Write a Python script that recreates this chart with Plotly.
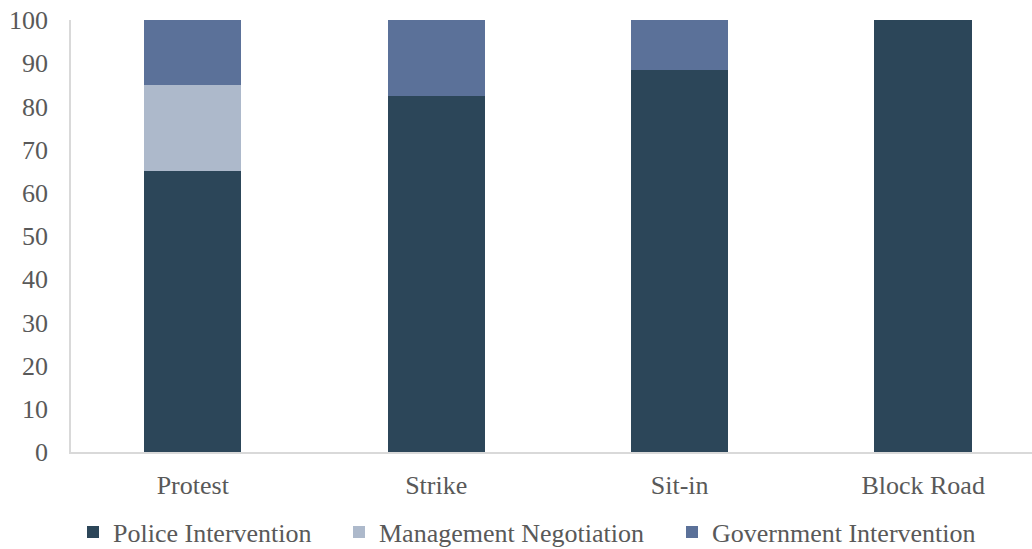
import plotly.graph_objects as go

# Response to each protest type (%)
categories = ["Protest", "Strike", "Sit-in", "Block Road"]
police_intervention = [65, 82.4, 88.4, 100]
management_negotiation = [20, 0, 0, 0]
government_intervention = [15, 17.6, 11.6, 0]

series = [
    ("Police Intervention", police_intervention, "#2c4659"),
    ("Management Negotiation", management_negotiation, "#adb9cb"),
    ("Government Intervention", government_intervention, "#5b7199"),
]
# left edge (px) of each legend entry's label
legend_text_x = [113, 379, 712]

font_family = "Liberation Serif, Times New Roman, serif"
text_color = "#595959"
font_size = 26
W, H = 1032, 549

fig = go.Figure()
legend_defs = {}
for i, (name, values, color) in enumerate(series):
    key = "legend" if i == 0 else f"legend{i + 1}"
    fig.add_trace(go.Bar(
        x=categories,
        y=values,
        name=name,
        marker=dict(color=color, line=dict(width=0)),
        width=0.4,
        legend=key,
    ))
    legend_defs[key] = dict(
        orientation="h",
        xref="container",
        yref="container",
        x=(legend_text_x[i] - 40) / W,
        xanchor="left",
        y=1 - 532 / H,
        yanchor="middle",
        bgcolor="rgba(0,0,0,0)",
        font=dict(family=font_family, size=font_size, color=text_color),
        itemwidth=30,
    )

fig.update_layout(
    barmode="stack",
    width=W,
    height=H,
    margin=dict(l=71, r=0, t=20, b=97, autoexpand=False),
    paper_bgcolor="white",
    plot_bgcolor="white",
    font=dict(family=font_family, size=font_size, color=text_color),
    showlegend=True,
    xaxis=dict(
        range=[-0.5, 3.447],
        showgrid=False,
        showline=True,
        linecolor="#d9d9d9",
        linewidth=1.5,
        ticks="",
        ticklabelstandoff=9,
        tickfont=dict(family=font_family, size=font_size, color=text_color),
    ),
    yaxis=dict(
        range=[0, 100],
        dtick=10,
        showgrid=False,
        showline=True,
        linecolor="#d9d9d9",
        linewidth=1.5,
        ticks="",
        zeroline=False,
        ticklabelstandoff=16,
        tickfont=dict(family=font_family, size=font_size, color=text_color),
    ),
    **legend_defs,
)

fig.write_html("out.html")
